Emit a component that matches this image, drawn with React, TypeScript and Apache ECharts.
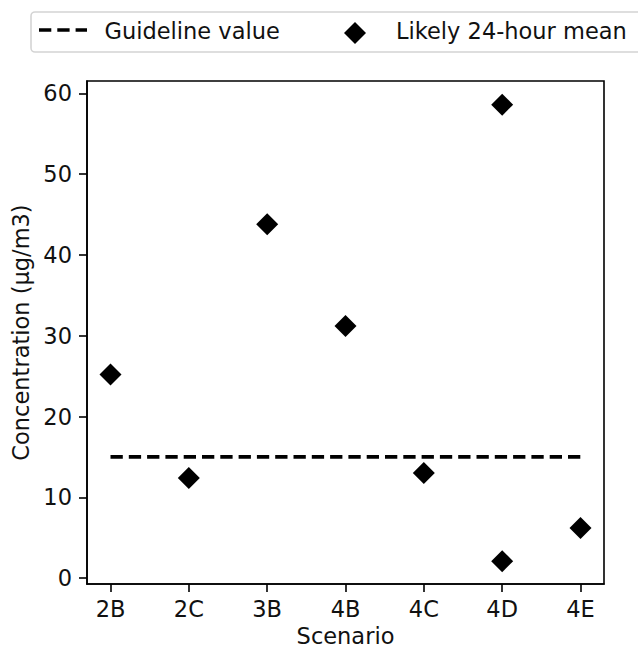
import React, { useEffect, useRef } from "react";
import * as echarts from "echarts";

const categories = ["2B", "2C", "3B", "4B", "4C", "4D", "4E"];
const meanPoints: [number, number][] = [
  [0, 25.2],
  [1, 12.4],
  [2, 43.8],
  [3, 31.2],
  [4, 13.0],
  [5, 58.6],
  [5, 2.1],
  [6, 6.2],
];
const guidelineValue = 15;
const yTicks = [0, 10, 20, 30, 40, 50, 60];
const xTicks = [0, 1, 2, 3, 4, 5, 6];

const FONT = "DejaVu Sans";
const FS = 22.5;
const TXT = "#111";

export default function App() {
  const ref = useRef<HTMLDivElement>(null);
  useEffect(() => {
    if (!ref.current) return;
    const chart = echarts.init(ref.current, undefined, { renderer: "svg" });
    chart.setOption({
      animation: false,
      backgroundColor: "#ffffff",
      grid: {
        left: 87,
        top: 81,
        right: 34,
        bottom: 65,
        containLabel: false,
        outerBoundsMode: "none",
        show: true,
        borderColor: "#000",
        borderWidth: 1.6,
        backgroundColor: "transparent",
      },
      xAxis: {
        type: "value",
        min: -0.3,
        max: 6.3,
        name: "Scenario",
        nameLocation: "middle",
        nameGap: 41,
        nameTextStyle: { fontFamily: FONT, fontSize: FS, color: TXT, lineHeight: 20 },
        axisLine: { show: true, onZero: false, lineStyle: { color: "#000", width: 1.6 } },
        axisTick: { show: true, length: 8, customValues: xTicks, lineStyle: { color: "#000", width: 1.6 } },
        axisLabel: {
          customValues: xTicks,
          margin: 13,
          fontFamily: FONT,
          fontSize: FS,
          color: TXT,
          formatter: (v: number) => categories[Math.round(v)] ?? "",
        },
        splitLine: { show: false },
      },
      yAxis: {
        type: "value",
        min: -0.73,
        max: 61.53,
        name: "Concentration (μg/m3)",
        nameLocation: "middle",
        nameGap: 54,
        nameTextStyle: { fontFamily: FONT, fontSize: FS, color: TXT },
        axisLine: { show: true, onZero: false, lineStyle: { color: "#000", width: 1.6 } },
        axisTick: { show: true, length: 8, customValues: yTicks, lineStyle: { color: "#000", width: 1.6 } },
        axisLabel: {
          customValues: yTicks,
          margin: 15,
          fontFamily: FONT,
          fontSize: FS,
          color: TXT,
        },
        splitLine: { show: false },
      },
      series: [
        {
          name: "Guideline value",
          type: "line",
          data: [
            [0, guidelineValue],
            [6, guidelineValue],
          ],
          showSymbol: false,
          symbol: "none",
          lineStyle: { color: "#000", width: 3.6, type: [12.3, 6], cap: "butt" },
          z: 2,
        },
        {
          name: "Likely 24-hour mean",
          type: "scatter",
          data: meanPoints,
          symbol: "diamond",
          symbolSize: [22, 22],
          itemStyle: { color: "#000", opacity: 1 },
          z: 3,
        },
      ],
      graphic: [
        {
          type: "rect",
          shape: { x: 31, y: 12, width: 640, height: 40, r: 4 },
          style: { fill: "#fff", stroke: "#d4d4d4", lineWidth: 1.6 },
        },
        {
          type: "line",
          shape: { x1: 39, y1: 30, x2: 87, y2: 30 },
          style: { stroke: "#000", lineWidth: 3.6, lineDash: [12.3, 6] },
        },
        {
          type: "text",
          x: 104.5,
          y: 31,
          style: {
            text: "Guideline value",
            fontFamily: FONT,
            fontSize: FS,
            fill: TXT,
            verticalAlign: "middle",
          },
        },
        {
          type: "polygon",
          shape: {
            points: [
              [355, 22],
              [366, 33],
              [355, 44],
              [344, 33],
            ],
          },
          style: { fill: "#000" },
        },
        {
          type: "text",
          x: 396,
          y: 31,
          style: {
            text: "Likely 24-hour mean",
            fontFamily: FONT,
            fontSize: FS,
            fill: TXT,
            verticalAlign: "middle",
          },
        },
      ],
    });
    return () => chart.dispose();
  }, []);
  return <div ref={ref} style={{ width: 638, height: 649, position: "absolute", left: 0, top: 0 }} />;
}
